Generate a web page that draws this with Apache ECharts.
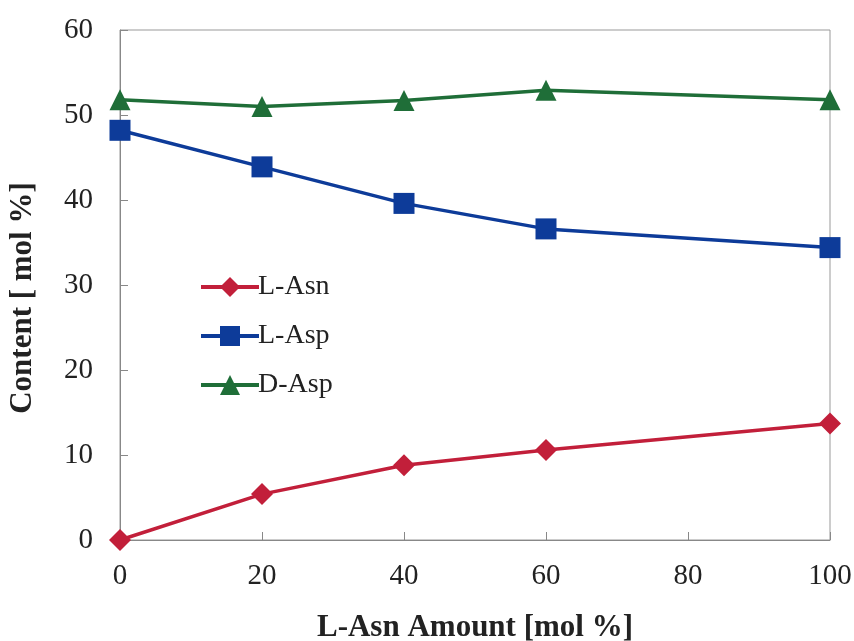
<!DOCTYPE html>
<html><head><meta charset="utf-8">
<script src="https://cdn.jsdelivr.net/npm/echarts@6/dist/echarts.min.js"></script>
<style>html,body{margin:0;padding:0;background:#fff}#c{width:854px;height:641px}</style>
</head><body><div id="c"></div>
<script>
var xValues = [0, 20, 40, 60, 100];
var lAsn = [0, 5.4, 8.8, 10.6, 13.7];
var lAsp = [48.2, 43.9, 39.6, 36.6, 34.4];
var dAsp = [51.8, 51.0, 51.7, 52.9, 51.8];
var seriesNames = ['L-Asn', 'L-Asp', 'D-Asp'];
var xTitle = 'L-Asn Amount [mol %]';
var yTitle = 'Content [ mol %]';

function pairs(ys){ return xValues.map(function(x,i){return [x, ys[i]];}); }
var font = '"Liberation Serif", "Times New Roman", serif';
var chart = echarts.init(document.getElementById('c'));
chart.setOption({
  animation: false,
  backgroundColor: '#fff',
  grid: {left: 120, right: 24, top: 30, bottom: 101, show: true, borderColor: '#999', borderWidth: 1,
         outerBoundsMode: 'none', containLabel: false},
  legend: {
    orient: 'vertical', left: 194, top: 268, itemGap: 21,
    itemWidth: 58, itemHeight: 25,
    lineStyle: {width: 4},
    textStyle: {fontFamily: font, fontSize: 28, color: '#222', padding: [0,0,0,-6]},
    data: seriesNames
  },
  xAxis: {
    type: 'value', min: 0, max: 100, interval: 20,
    name: xTitle, nameLocation: 'middle', nameGap: 72,
    nameTextStyle: {fontFamily: font, fontSize: 31, fontWeight: 'bold', color: '#222'},
    axisLine: {lineStyle: {color: '#888'}},
    axisTick: {inside: true, length: 8, lineStyle: {color: '#888'}},
    axisLabel: {fontFamily: font, fontSize: 29, color: '#222', margin: 22},
    splitLine: {show: false}
  },
  yAxis: {
    type: 'value', min: 0, max: 60, interval: 10,
    name: yTitle, nameLocation: 'middle', nameGap: 82,
    nameTextStyle: {fontFamily: font, fontSize: 31, fontWeight: 'bold', color: '#222', padding: [0, 26, 0, 0]},
    axisLine: {show: true, lineStyle: {color: '#888'}},
    axisTick: {show: true, inside: true, length: 8, lineStyle: {color: '#888'}},
    axisLabel: {fontFamily: font, fontSize: 29, color: '#222', margin: 27},
    splitLine: {show: false}
  },
  series: [
    {name: seriesNames[0], type: 'line', data: pairs(lAsn), symbol: 'diamond', symbolSize: 22,
     lineStyle: {width: 3.5, color: '#C21F3A'}, itemStyle: {color: '#C21F3A'}},
    {name: seriesNames[1], type: 'line', data: pairs(lAsp), symbol: 'rect', symbolSize: 21,
     lineStyle: {width: 3.5, color: '#0D3B99'}, itemStyle: {color: '#0D3B99'}},
    {name: seriesNames[2], type: 'line', data: pairs(dAsp), symbol: 'triangle', symbolSize: 21,
     lineStyle: {width: 3.5, color: '#1F6E38'}, itemStyle: {color: '#1F6E38'}}
  ]
});
</script></body></html>
